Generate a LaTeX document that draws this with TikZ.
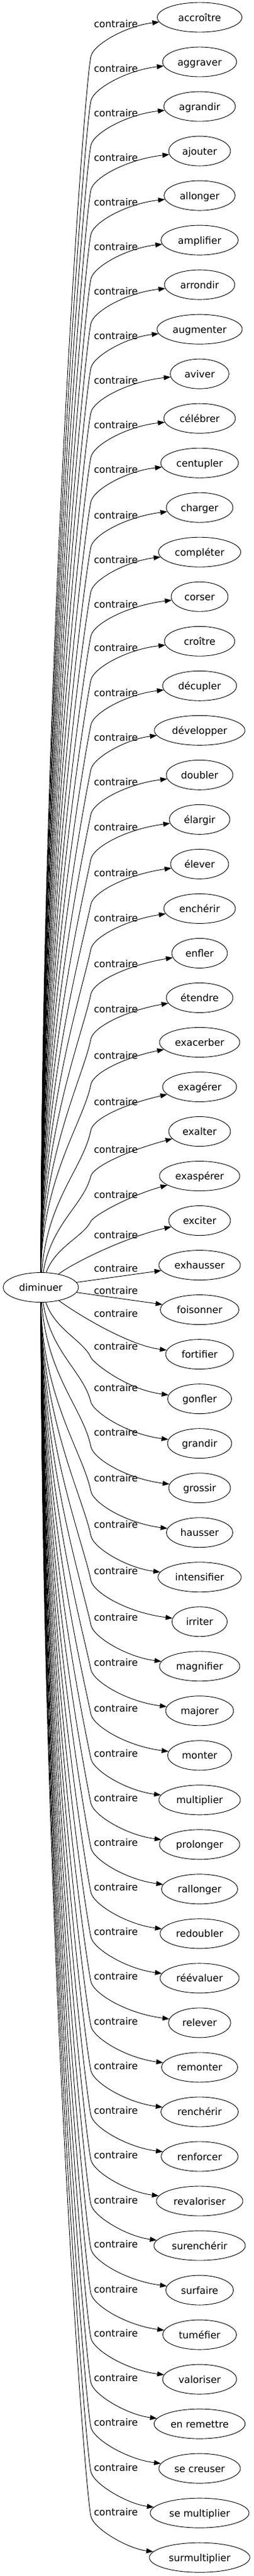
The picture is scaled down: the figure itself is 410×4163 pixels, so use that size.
\documentclass[tikz,border=0pt]{standalone}
\usepackage{fontspec}
\setmainfont{DejaVu Sans}
\usetikzlibrary{arrows.meta,shapes.geometric}
\begin{document}
\begin{tikzpicture}[x=1pt,y=-1pt,
  every node/.style={font=\fontsize{15.8}{19}\selectfont, text height=12pt, text depth=0pt, inner sep=0pt},
  term/.style={draw, ellipse, line width=0.9pt, minimum height=48pt},
  edgeline/.style={draw, line width=0.9pt, -{Triangle[length=11pt,width=8pt]}}]
\useasboundingbox (0,0) rectangle (410,4163);
\node[term, minimum width=122pt] (d) at (66,2080.5) {diminuer};
\foreach \k/\w/\r in {0/accroître/68.5, 1/aggraver/60, 2/agrandir/58, 3/ajouter/50, 4/allonger/57.5,
  5/amplifier/62.5, 6/arrondir/57, 7/augmenter/69, 8/aviver/47.5, 9/célébrer/58,
  10/centupler/63, 11/charger/54, 12/compléter/66.5, 13/corser/46, 14/croître/57,
  15/décupler/60, 16/développer/73.3, 17/doubler/54, 18/élargir/49, 19/élever/47,
  20/enchérir/58, 21/enfler/45, 22/étendre/54, 23/exacerber/65, 24/exagérer/60,
  25/exalter/50, 26/exaspérer/65, 27/exciter/50, 28/exhausser/66, 29/foisonner/63.7,
  30/fortifier/55, 31/gonfler/51.7, 32/grandir/52, 33/grossir/50, 34/hausser/53.7,
  35/intensifier/67.3, 36/irriter/44.7, 37/magnifier/65, 38/majorer/55, 39/monter/51.7,
  40/multiplier/66, 41/prolonger/65, 42/rallonger/61.7, 43/redoubler/64, 44/réévaluer/64,
  45/relever/50.3, 46/remonter/61.7, 47/renchérir/62.7, 48/renforcer/62.3, 49/revaloriser/70,
  50/surenchérir/74, 51/surfaire/54.7, 52/tuméfier/59.7, 53/valoriser/60, 54/en remettre/73.7,
  55/se creuser/66, 56/se multiplier/80, 57/surmultiplier/81.3} {
  \pgfmathsetmacro\mynw{2*\r}
  \pgfmathsetmacro\myty{28+72.02*\k}
  \node[term, minimum width=\mynw pt] (t\k) at (323,\myty) {\w};
}
\foreach \L [count=\i from 0] in {38.8, 110.5, 182, 254.5, 326, 398, 470, 542, 614, 686,
  758, 832, 904, 976, 1046.5, 1119, 1191.4, 1263.7, 1336.7, 1410.4,
  1483.4, 1557, 1630, 1705, 1780.7, 1857, 1930.7, 1995.6, 2049.5,
  2085.4, 2122, 2175.8, 2242.7, 2314.4, 2388, 2463.7, 2538.7, 2613, 2686.7,
  2760, 2833, 2905, 2977, 3049, 3121, 3193.4, 3266.4, 3338.7, 3410.3,
  3482.6, 3555, 3626.6, 3699, 3770.6, 3842, 3914.6, 3987, 4059} {
  \node (l\i) at (187.5,\L) {contraire};
}
% upper edges
\foreach \k/\L in {0/38.8, 1/110.5, 2/182, 3/254.5, 4/326, 5/398, 6/470, 7/542, 8/614, 9/686,
  10/758, 11/832, 12/904, 13/976, 14/1046.5, 15/1119, 16/1191.4, 17/1263.7, 18/1336.7, 19/1410.4,
  20/1483.4, 21/1557, 22/1630, 23/1705, 24/1780.7, 25/1857, 26/1930.7} {
  \pgfmathsetmacro\myty{28+72.02*\k}
  \pgfmathsetmacro\myby{(\myty+\L)/2+58}
  \pgfmathsetmacro\myhh{2056-\myby}
  \pgfmathsetmacro\myff{max(0,1-\myhh/300)}
  \pgfmathsetmacro\mycax{68+30*\myff}
  \pgfmathsetmacro\mycay{2056-0.5*\myhh}
  \pgfmathsetmacro\mymm{min(60,0.3*\myhh)}
  \pgfmathsetmacro\mycby{\myby+\mymm}
  \pgfmathsetmacro\myccy{\myby-\mymm/3}
  \pgfmathsetmacro\mycdy{\L+3}
  \draw[edgeline] (d) .. controls (\mycax,\mycay) and (135,\mycby) .. (147,\myby)
    .. controls (151,\myccy) and (205,\mycdy) .. (t\k);
}
% lower edges
\foreach \k in {31,...,57} {
  \pgfmathsetmacro\myty{28+72.02*\k}
  \pgfmathsetmacro\myby{\myty-67}
  \pgfmathsetmacro\myhh{\myby-2104}
  \pgfmathsetmacro\myff{max(0,1-\myhh/300)}
  \pgfmathsetmacro\mycax{68+30*\myff}
  \pgfmathsetmacro\mycay{2104+0.5*\myhh}
  \pgfmathsetmacro\mymm{min(60,0.3*\myhh)}
  \pgfmathsetmacro\mycby{\myby-\mymm}
  \pgfmathsetmacro\myccy{\myby+\mymm/3}
  \pgfmathsetmacro\mycdy{\myty-15}
  \draw[edgeline] (d) .. controls (\mycax,\mycay) and (135,\mycby) .. (147,\myby)
    .. controls (151,\myccy) and (205,\mycdy) .. (t\k);
}
% near edges
\draw[edgeline] (d) .. controls (120,2040) and (205,1998.6) .. (t27);
\draw[edgeline] (d) -- (t28);
\draw[edgeline] (d) -- (t29);
\draw[edgeline] (d) .. controls (120,2120) and (205,2173.6) .. (t30);
\end{tikzpicture}
\end{document}
